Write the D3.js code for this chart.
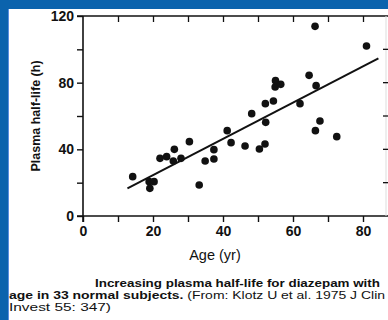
<!DOCTYPE html>
<html>
<head>
<meta charset="utf-8">
<script src="https://cdn.jsdelivr.net/npm/d3@7"></script>
<style>
  html, body { margin: 0; padding: 0; background: #fff; }
  svg { display: block; font-family: "Liberation Sans", Arial, Helvetica, sans-serif; }
</style>
</head>
<body>
<svg id="chart" width="388" height="320"></svg>
<script>
// Age (years) and diazepam plasma half-life (hours) per subject
const ages = [14.2, 18.9, 20.3, 19.1, 22.0, 23.9, 26.1, 25.8, 28.0, 30.4, 33.2, 34.9,
              37.4, 37.4, 41.2, 42.3, 46.3, 48.2, 50.4, 52.0, 52.2, 52.1, 54.4, 55.0,
              54.9, 56.5, 62.0, 64.6, 66.3, 66.6, 67.7, 66.4, 72.5, 81.0];
const halfLives = [23.6, 20.6, 20.6, 16.6, 34.6, 35.6, 40.0, 33.0, 34.6, 44.6, 18.6, 33.0,
                   34.2, 39.8, 51.2, 44.0, 42.0, 61.4, 40.2, 43.2, 56.2, 67.4, 69.0, 81.2,
                   77.4, 79.0, 67.4, 84.4, 113.8, 78.2, 57.0, 51.2, 47.6, 102.0];
// Regression line endpoints (age) and fitted coefficients
const fitAges = [12.7, 84.4];
const fitSlope = 1.088;
const fitIntercept = 2.78;

const xTicksLabeled = [0, 20, 40, 60, 80];
const xTicksAll = [0, 10, 20, 30, 40, 50, 60, 70, 80, 90];
const yTicksLabeled = [0, 40, 80, 120];
const yTicksAll = [0, 20, 40, 60, 80, 100, 120];

const svg = d3.select("#chart");
const ink = "#111";

const x = d3.scaleLinear().domain([0, 80]).range([83, 363]);
const y = d3.scaleLinear().domain([0, 120]).range([216, 16]);

// page frame in blue
svg.append("rect").attr("x", 0).attr("y", 0).attr("width", 388).attr("height", 9).attr("fill", "#0b63ad");
svg.append("rect").attr("x", 0).attr("y", 0).attr("width", 8).attr("height", 320).attr("fill", "#0b63ad");
svg.append("rect").attr("x", 8).attr("y", 9).attr("width", 1).attr("height", 311).attr("fill", "#5b8fe0");

// left axis
const yAxis = d3.axisLeft(y).tickValues(yTicksAll).tickSize(6).tickPadding(3)
  .tickFormat(d => yTicksLabeled.includes(d) ? d : "");
const gy = svg.append("g").attr("transform", `translate(${x(0)},0)`).call(yAxis);
gy.select(".domain").remove();
gy.selectAll("line").attr("stroke", ink).attr("stroke-width", 1.4);
gy.selectAll("text").attr("fill", ink).attr("font-size", 14).attr("font-weight", "bold");
svg.append("line").attr("x1", x(0)).attr("x2", x(0)).attr("y1", y(120)).attr("y2", y(0) + 6)
  .attr("stroke", ink).attr("stroke-width", 1.6);

// bottom axis
const xAxis = d3.axisBottom(x).tickValues(xTicksAll).tickSize(6).tickPadding(4)
  .tickFormat(d => xTicksLabeled.includes(d) ? d : "");
const gx = svg.append("g").attr("transform", `translate(0,${y(0)})`).call(xAxis);
gx.select(".domain").remove();
gx.selectAll("line").attr("stroke", ink).attr("stroke-width", 1.4);
gx.selectAll("text").attr("fill", ink).attr("font-size", 14).attr("font-weight", "bold");
svg.append("line").attr("x1", x(0) - 6).attr("x2", 388).attr("y1", y(0)).attr("y2", y(0))
  .attr("stroke", ink).attr("stroke-width", 1.6);

// top axis
const xTop = d3.axisTop(x).tickValues(xTicksAll.filter(d => d > 0)).tickSize(-6).tickFormat("");
const gt = svg.append("g").attr("transform", `translate(0,${y(120)})`).call(xTop);
gt.select(".domain").remove();
gt.selectAll("line").attr("stroke", ink).attr("stroke-width", 1.3);
svg.append("line").attr("x1", x(0) - 6).attr("x2", 388).attr("y1", y(120)).attr("y2", y(120))
  .attr("stroke", ink).attr("stroke-width", 1.6);

// right axis (mostly beyond the visible edge)
svg.append("line").attr("x1", 386).attr("x2", 386).attr("y1", y(120)).attr("y2", y(0))
  .attr("stroke", "#ddd").attr("stroke-width", 1);
svg.append("g").selectAll("line").data(yTicksAll.filter(d => d > 0 && d < 120)).join("line")
  .attr("x1", 383).attr("x2", 388).attr("y1", d => y(d)).attr("y2", d => y(d))
  .attr("stroke", ink).attr("stroke-width", 1.3);

// axis titles
svg.append("text").attr("transform", `translate(40,${y(60)}) rotate(-90)`)
  .attr("text-anchor", "middle").attr("font-size", 12.5).attr("font-weight", "bold").attr("fill", ink)
  .text("Plasma half-life (h)");
svg.append("text").attr("x", 215).attr("y", 260).attr("text-anchor", "middle")
  .attr("font-size", 14.5).attr("fill", ink).text("Age (yr)");

// regression line
svg.append("line")
  .attr("x1", x(fitAges[0])).attr("y1", y(fitIntercept + fitSlope * fitAges[0]))
  .attr("x2", x(fitAges[1])).attr("y2", y(fitIntercept + fitSlope * fitAges[1]))
  .attr("stroke", ink).attr("stroke-width", 2);

// subjects
svg.append("g").selectAll("circle").data(ages).join("circle")
  .attr("cx", d => x(d)).attr("cy", (d, i) => y(halfLives[i])).attr("r", 3.8).attr("fill", ink);

// caption: wide, tightly-leaded lines
const cap = svg.append("g").attr("font-size", 11.5).attr("fill", ink);
cap.append("text").attr("x", 95).attr("y", 287).attr("font-weight", "bold")
  .attr("textLength", 285).attr("lengthAdjust", "spacingAndGlyphs")
  .text("Increasing plasma half-life for diazepam with");
const l2 = cap.append("text").attr("x", 9).attr("y", 299)
  .attr("textLength", 376).attr("lengthAdjust", "spacingAndGlyphs");
l2.append("tspan").attr("font-weight", "bold").text("age in 33 normal subjects.");
l2.append("tspan").text(" (From: Klotz U et al. 1975 J Clin");
cap.append("text").attr("x", 9).attr("y", 311)
  .attr("textLength", 102).attr("lengthAdjust", "spacingAndGlyphs").text("Invest 55: 347)");
</script>
</body>
</html>
